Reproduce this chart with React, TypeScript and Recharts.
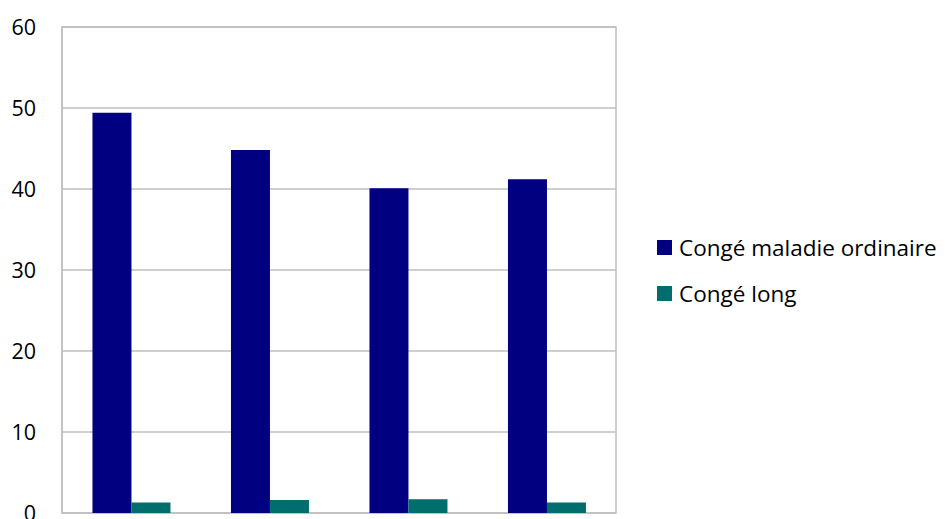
import { BarChart, Bar, XAxis, YAxis, CartesianGrid, ReferenceArea } from 'recharts'

const periods = ['P1', 'P2', 'P3', 'P4']
const congeMaladie = [49.4, 44.8, 40.1, 41.2]
const congeLong = [1.3, 1.6, 1.7, 1.3]
const yTicks = [0, 10, 20, 30, 40, 50, 60]

const SERIES = [
  { key: 'maladie', name: 'Congé maladie ordinaire', color: '#000080' },
  { key: 'long', name: 'Congé long', color: '#006e6c' },
]

const data = periods.map((p, i) => ({
  period: p,
  maladie: congeMaladie[i],
  long: congeLong[i],
}))

const FONT = '"Open Sans", "Liberation Sans", sans-serif'
const GRID = '#bfbfbf'

export default function App() {
  return (
    <div style={{ position: 'absolute', left: 0, top: 0, width: 945, height: 519, background: '#fff', fontFamily: FONT }}>
      <BarChart
        width={945}
        height={519}
        data={data}
        margin={{ top: 27, right: 329, bottom: 6, left: 0 }}
        barCategoryGap="22%"
        barGap={0}
        style={{ overflow: 'hidden' }}
      >
        <CartesianGrid vertical={false} stroke={GRID} strokeWidth={1.5} />
        {/* plot frame */}
        <ReferenceArea y1={0} y2={60} fill="none" stroke={GRID} strokeWidth={1.5} ifOverflow="visible" />
        <XAxis dataKey="period" tick={false} tickLine={false} height={0} axisLine={{ stroke: GRID, strokeWidth: 2 }} />
        <YAxis
          domain={[0, 60]}
          ticks={yTicks}
          interval={0}
          width={62}
          tickLine={false}
          tickSize={0}
          tickMargin={26}
          axisLine={{ stroke: GRID, strokeWidth: 1.5 }}
          tick={{ fill: '#000', fontSize: 21.5, fontFamily: FONT }}
        />
        {SERIES.map((s) => (
          <Bar key={s.key} dataKey={s.key} name={s.name} fill={s.color} isAnimationActive={false} />
        ))}
      </BarChart>

      {/* Legend */}
      <div style={{ position: 'absolute', left: 657, top: 231 }}>
        {SERIES.map((s) => (
          <div key={s.key} style={{ display: 'flex', alignItems: 'center', height: 32, marginBottom: 14 }}>
            <div style={{ width: 15, height: 15, background: s.color, marginRight: 7 }} />
            <span style={{ fontSize: 22.5, color: '#000', whiteSpace: 'nowrap' }}>{s.name}</span>
          </div>
        ))}
      </div>
    </div>
  )
}
